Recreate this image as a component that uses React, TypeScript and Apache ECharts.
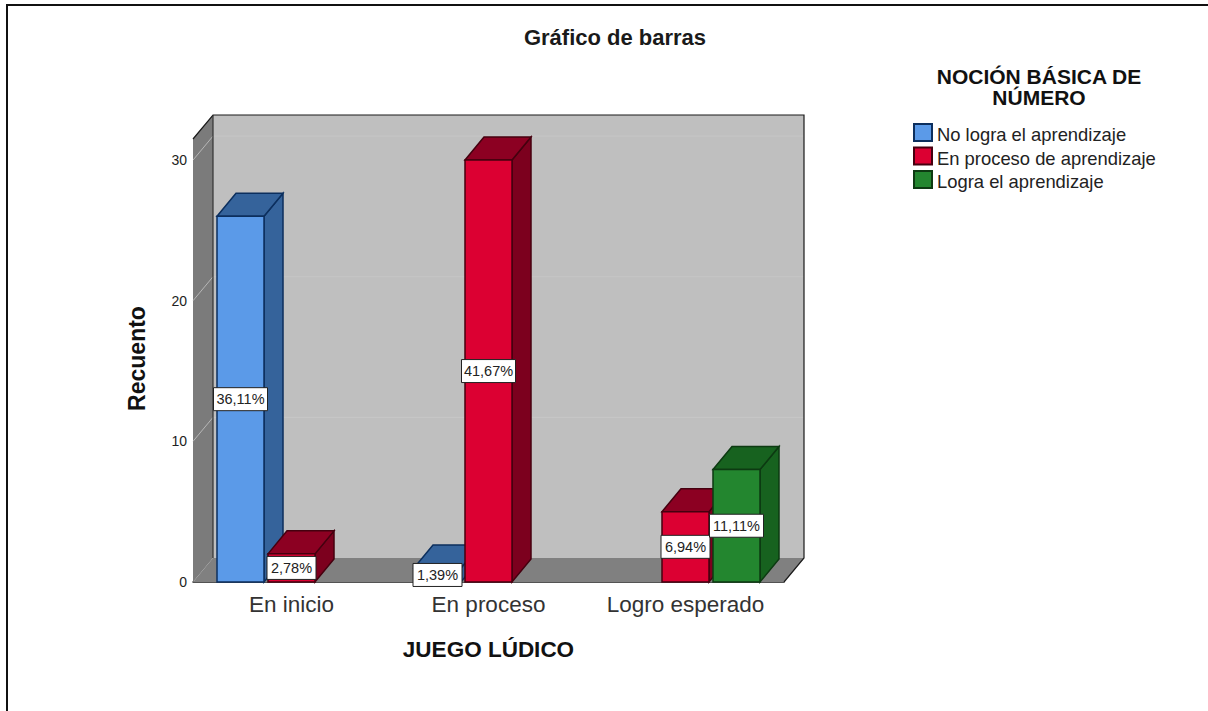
import React, { useEffect, useRef } from "react";
import * as echarts from "echarts";

const categories = ["En inicio", "En proceso", "Logro esperado"];
const seriesNames = ["No logra el aprendizaje", "En proceso de aprendizaje", "Logra el aprendizaje"];
const noLogra = [26, 1, 0];
const enProceso = [2, 30, 5];
const logra = [0, 0, 8];
const noLograPct = ["36,11%", "1,39%", ""];
const enProcesoPct = ["2,78%", "41,67%", "6,94%"];
const lograPct = ["", "", "11,11%"];
const yTicks = [10, 20, 30];

const palette = [
  { front: "#5b9ae8", top: "#35639b", side: "#35639b", edge: "#0c2f5e" },
  { front: "#dc0032", top: "#8c0022", side: "#7c001e", edge: "#45000f" },
  { front: "#23862f", top: "#17621f", side: "#17621f", edge: "#0d3a12" },
];

const WALL_DX = 20;
const WALL_DY = -24;
const BAR_DX = 19;
const BAR_DY = -23;
const BAR_W = 47;
const STEP = 51;
const FONT = "Liberation Sans";

function poly(points: number[][], fill: string, stroke: string, lineWidth = 1) {
  return { type: "polygon", shape: { points }, style: { fill, stroke, lineWidth } };
}

function renderWalls(params: any, api: any) {
  const g = params.coordSys;
  const x0 = g.x, x1 = g.x + g.width, y0 = g.y, y1 = g.y + g.height;
  const children: any[] = [
    poly([[x0 + WALL_DX, y0 + WALL_DY], [x1 + WALL_DX, y0 + WALL_DY], [x1 + WALL_DX, y1 + WALL_DY], [x0 + WALL_DX, y1 + WALL_DY]], "#bfbfbf", "none"),
    poly([[x0, y0], [x0 + WALL_DX, y0 + WALL_DY], [x0 + WALL_DX, y1 + WALL_DY], [x0, y1]], "#7b7b7b", "none"),
    poly([[x0, y1], [x0 + WALL_DX, y1 + WALL_DY], [x1 + WALL_DX, y1 + WALL_DY], [x1, y1]], "#808080", "none"),
  ];
  yTicks.forEach((v) => {
    const y = api.coord([0, v])[1];
    children.push({
      type: "polyline",
      shape: { points: [[x0, y], [x0 + WALL_DX, y + WALL_DY], [x1 + WALL_DX, y + WALL_DY]] },
      style: { stroke: "#cacaca", lineWidth: 1, fill: "none", opacity: 0.75 },
    });
  });
  children.push({
    type: "polyline",
    shape: { points: [[x0, y0], [x0 + WALL_DX, y0 + WALL_DY], [x1 + WALL_DX, y0 + WALL_DY], [x1 + WALL_DX, y1 + WALL_DY], [x1, y1]] },
    style: { stroke: "#1a1a1a", lineWidth: 1.2, fill: "none" },
  });
  children.push({
    type: "line",
    shape: { x1: x0 + WALL_DX, y1: y0 + WALL_DY, x2: x0 + WALL_DX, y2: y1 + WALL_DY },
    style: { stroke: "#333333", lineWidth: 1.2 },
  });
  return { type: "group", children };
}

function barRenderer(seriesIndex: number) {
  return (_: any, api: any) => {
    const value = api.value(1);
    if (!value) return null;
    const base = api.coord([api.value(0), 0]);
    const top = api.coord([api.value(0), value]);
    const cx = base[0] + (seriesIndex - 1) * STEP;
    const l = cx - BAR_W / 2, r = cx + BAR_W / 2, t = top[1], b = base[1];
    const c = palette[seriesIndex];
    return {
      type: "group",
      children: [
        poly([[r, t], [r + BAR_DX, t + BAR_DY], [r + BAR_DX, b + BAR_DY], [r, b]], c.side, c.edge, 1.5),
        poly([[l, t], [l + BAR_DX, t + BAR_DY], [r + BAR_DX, t + BAR_DY], [r, t]], c.top, c.edge, 1.5),
        poly([[l, t], [r, t], [r, b], [l, b]], c.front, c.edge, 1.5),
      ],
    };
  };
}

function labelRenderer(seriesIndex: number) {
  return (_: any, api: any) => {
    const value = api.value(1);
    if (!value) return null;
    const base = api.coord([api.value(0), 0]);
    const top = api.coord([api.value(0), value]);
    const cx = base[0] + (seriesIndex - 1) * STEP;
    const cy = (base[1] + top[1]) / 2;
    const text = api.value(2);
    const w = text.length > 5 ? 54 : 49;
    return {
      type: "group",
      children: [
        { type: "rect", shape: { x: cx - w / 2, y: cy - 11.5, width: w, height: 23 }, style: { fill: "#ffffff", stroke: "#222222", lineWidth: 1 } },
        { type: "text", style: { x: cx, y: cy, text, fill: "#222222", font: `14.5px "${FONT}"`, align: "center", verticalAlign: "middle" } },
      ],
    };
  };
}

const rows = (vals: number[], pct: string[]) => vals.map((v, i) => [i, v, pct[i]]);
const barData = [rows(noLogra, noLograPct), rows(enProceso, enProcesoPct), rows(logra, lograPct)];

export default function App() {
  const ref = useRef<HTMLDivElement>(null);
  useEffect(() => {
    const chart = echarts.init(ref.current!, undefined, { renderer: "svg" });
    chart.setOption({
      animation: false,
      backgroundColor: "#ffffff",
      title: [
        {
          text: "Gráfico de barras",
          left: 610,
          top: 21,
          textAlign: "center",
          textStyle: { fontFamily: FONT, fontSize: 22, fontWeight: "bold", color: "#1a1a1a" },
        },
        {
          text: "NOCIÓN BÁSICA DE\nNÚMERO",
          left: 1034,
          top: 61,
          textAlign: "center",
          textStyle: { fontFamily: FONT, fontSize: 21, fontWeight: "bold", color: "#111111", lineHeight: 21 },
        },
      ],
      legend: {
        orient: "vertical",
        left: 913,
        top: 123,
        padding: 0,
        itemWidth: 18,
        itemHeight: 17,
        itemGap: 3,
        icon: "rect",
        selectedMode: false,
        data: seriesNames,
        formatter: "{a|{name}}",
        textStyle: {
          rich: { a: { fontFamily: FONT, fontSize: 18.4, color: "#222222", padding: [4, 0, 0, 0] } },
        },
      },
      grid: { left: 193, right: 1208 - 784, top: 139, bottom: 711 - 582 },
      xAxis: {
        type: "category",
        data: categories,
        name: "JUEGO LÚDICO",
        nameLocation: "middle",
        nameGap: 56,
        nameTextStyle: { fontFamily: FONT, fontSize: 22.5, fontWeight: "bold", color: "#111111" },
        axisTick: { show: false },
        axisLine: { lineStyle: { color: "#1a1a1a", width: 1.5 } },
        axisLabel: { fontFamily: FONT, fontSize: 22.5, color: "#333333", margin: 11, interval: 0 },
      },
      yAxis: {
        type: "value",
        min: 0,
        max: 31.5,
        interval: 10,
        name: "Recuento",
        nameLocation: "middle",
        nameGap: 45,
        nameTextStyle: { fontFamily: FONT, fontSize: 23, fontWeight: "bold", color: "#111111", padding: [0, 0, 0, 4] },
        splitLine: { show: false },
        axisTick: { show: false },
        axisLine: { show: false },
        axisLabel: { fontFamily: FONT, fontSize: 14, color: "#222222", margin: 6, showMaxLabel: false },
      },
      graphic: [
        {
          type: "polyline",
          z: 100,
          shape: { points: [[7, 711], [7, 5], [1208, 5]] },
          style: { stroke: "#111111", lineWidth: 2, fill: "none" },
        },
      ],
      series: [
        {
          type: "custom",
          name: "wall",
          silent: true,
          z: 1,
          data: [[0, 0]],
          encode: { x: 0, y: 1 },
          renderItem: renderWalls,
        },
        ...seriesNames.map((name, i) => ({
          type: "custom",
          name,
          z: 2 + i,
          data: barData[i],
          dimensions: ["cat", "value", { name: "pct", type: "ordinal" }],
          encode: { x: 0, y: 1 },
          itemStyle: { color: palette[i].front, borderColor: palette[i].edge, borderWidth: 1 },
          renderItem: barRenderer(i),
        })),
        ...seriesNames.map((name, i) => ({
          type: "custom",
          name: name + " %",
          z: 10,
          silent: true,
          data: barData[i],
          dimensions: ["cat", "value", { name: "pct", type: "ordinal" }],
          encode: { x: 0, y: 1 },
          renderItem: labelRenderer(i),
        })),
      ],
    });
    return () => chart.dispose();
  }, []);
  return <div ref={ref} style={{ position: "fixed", left: 0, top: 0, width: 1208, height: 711 }} />;
}
